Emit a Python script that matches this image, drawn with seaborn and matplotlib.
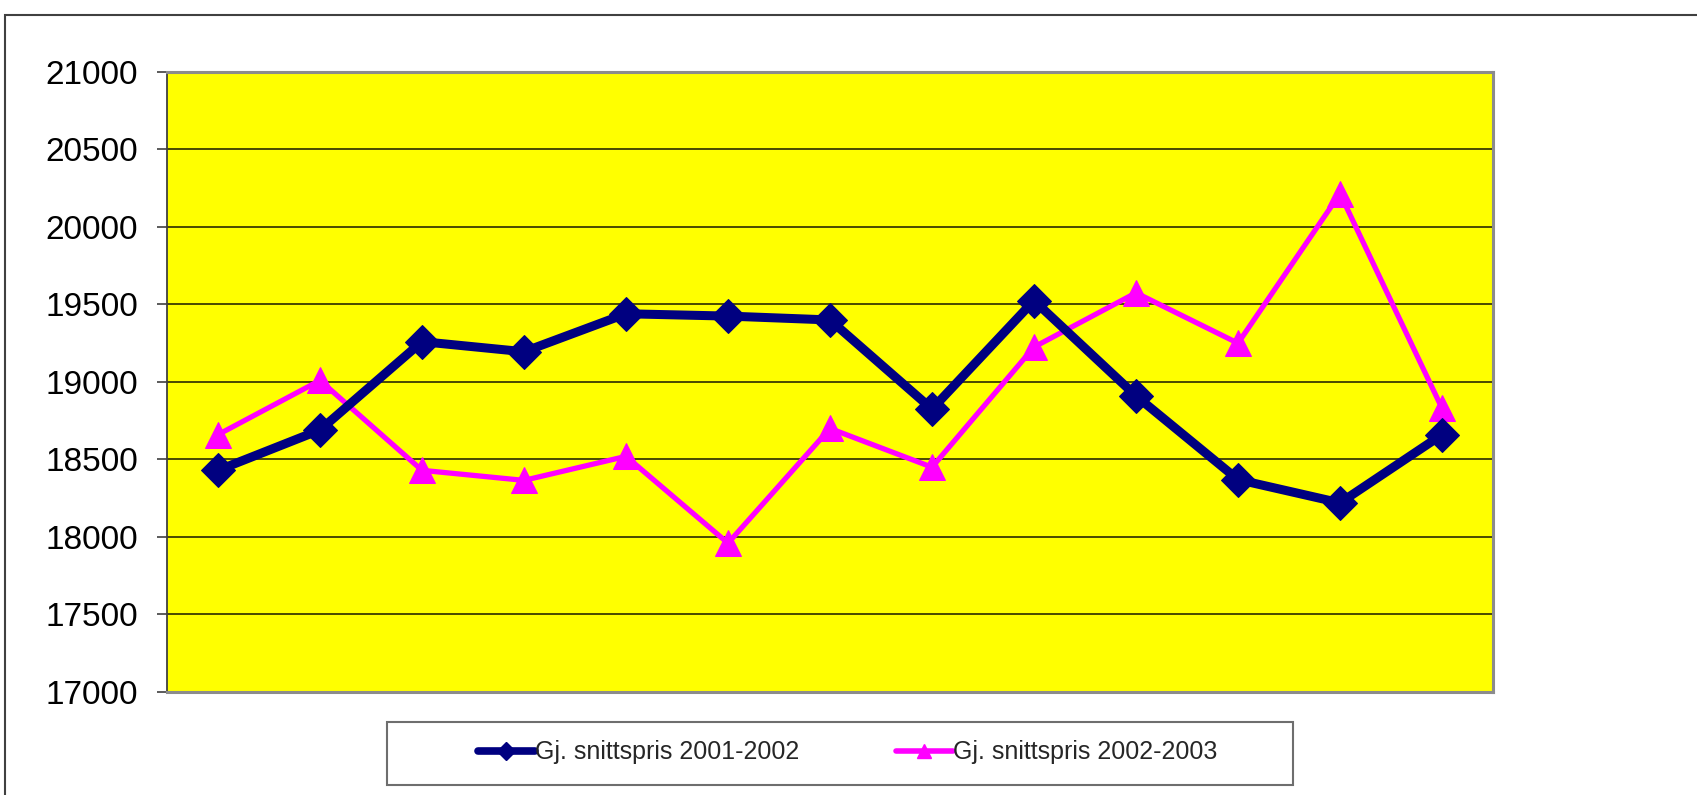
import seaborn as sns
import numpy as np
import matplotlib.pyplot as plt
import pandas as pd
from matplotlib.lines import Line2D
from matplotlib.patches import Rectangle

# values
periods = list(range(1, 14))
snitt_2001_2002 = [18430, 18690, 19260, 19195, 19440, 19425, 19400,
                   18825, 19525, 18910, 18370, 18220, 18660]
snitt_2002_2003 = [18660, 19010, 18430, 18365, 18520, 17960, 18700,
                   18450, 19225, 19575, 19250, 20215, 18830]
series_names = ['Gj. snittspris 2001-2002', 'Gj. snittspris 2002-2003']
y_ticks = [17000, 17500, 18000, 18500, 19000, 19500, 20000, 20500, 21000]

df = pd.DataFrame({'periode': periods,
                   series_names[0]: snitt_2001_2002,
                   series_names[1]: snitt_2002_2003})

sns.set_style('white')
plt.rcParams['font.family'] = ['Liberation Sans', 'DejaVu Sans']

fig = plt.figure(figsize=(16.97, 7.95), dpi=100)
ax = fig.add_axes([0.0984, 0.1296, 0.7814, 0.7799])
ax.set_facecolor('#ffff00')

navy = '#000080'
magenta = '#ff00ff'

sns.lineplot(data=df, x='periode', y=series_names[0], ax=ax, color=navy,
             linewidth=6.5, marker='D', markersize=17, markeredgecolor=navy,
             zorder=4)
sns.lineplot(data=df, x='periode', y=series_names[1], ax=ax, color=magenta,
             linewidth=3.8, marker='^', markersize=19, markeredgecolor=magenta,
             zorder=3)

ax.set_xlim(periods[0] - 0.5, periods[-1] + 0.5)
ax.set_ylim(y_ticks[0], y_ticks[-1])
ax.set_yticks(y_ticks)
ax.set_xticks([])
ax.set_xlabel('')
ax.set_ylabel('')
ax.yaxis.grid(True, color='#4a4a00', linewidth=1.4)
ax.set_axisbelow(True)
ax.tick_params(axis='y', length=7, width=1.2, color='#404040', pad=14,
               labelsize=24, labelcolor='black', direction='out', left=True)

ax.spines['left'].set_color('#404040')
ax.spines['left'].set_linewidth(1.3)
for s in ['top', 'right', 'bottom']:
    ax.spines[s].set_color('#8c8c8c')
    ax.spines[s].set_linewidth(2.2)

# outer chart frame
fig.patches.append(Rectangle((5 / 1697, -0.05), 1.0, 1 - 15 / 795 + 0.05,
                             transform=fig.transFigure, fill=False,
                             edgecolor='#404040', linewidth=1.5, zorder=0))
# legend box
fig.patches.append(Rectangle((387 / 1697, 1 - 785 / 795), (1293 - 387) / 1697,
                             63 / 795, transform=fig.transFigure, fill=False,
                             edgecolor='#6e6e6e', linewidth=1.5, zorder=1))

handles = [Line2D([], [], color=navy, linewidth=5.5, marker='D', markersize=9),
           Line2D([], [], color=magenta, linewidth=4, marker='^', markersize=10)]
fig.legend(handles, series_names, loc='center', bbox_to_anchor=(0.4995, 0.0535),
           ncol=2, frameon=False, handlelength=2.3, handletextpad=0.0,
           columnspacing=3.85, prop={'size': 18})

plt.savefig('out.png', dpi=100)
